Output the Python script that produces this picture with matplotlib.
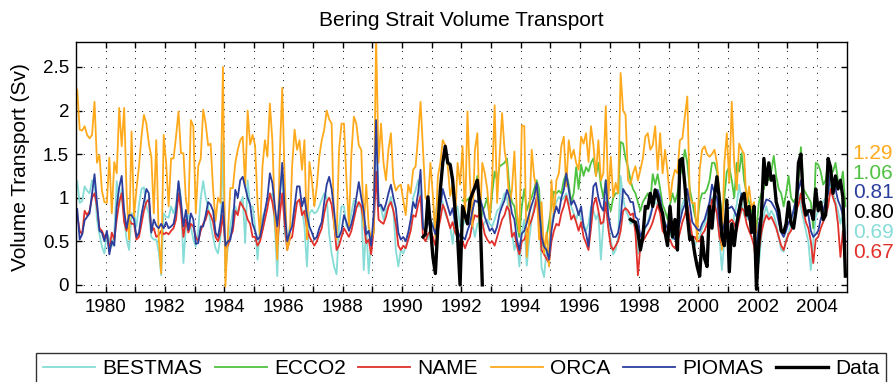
import numpy as np
import matplotlib
matplotlib.use("Agg")
import matplotlib.pyplot as plt
from matplotlib.ticker import FixedLocator, FuncFormatter

plt.rcParams['font.family'] = ['Liberation Sans', 'DejaVu Sans']

# monthly transports (Sv), one row per year
bestmas = [
    1.19, 0.94, 0.96, 1.13, 1.08, 1.05, 1.20, 1.17, 0.75, 0.58, 0.44, 0.36,  # 1979
    0.60, 0.52, 0.44, 0.58, 1.19, 0.90, 1.10, 0.75, 0.52, 0.40, 0.82, 0.82,  # 1980
    0.67, 0.92, 1.10, 1.12, 0.90, 0.82, 0.55, 0.52, 0.52, 0.38, 0.11, 0.82,  # 1981
    0.78, 0.77, 0.90, 0.82, 0.92, 1.17, 1.00, 0.25, 0.67, 0.82, 0.67, 0.52,  # 1982
    0.44, 0.63, 1.00, 1.19, 1.00, 0.90, 0.70, 0.55, 0.42, 0.36, 0.55, 1.62,  # 1983
    0.15, 0.44, 0.67, 0.85, 0.90, 0.82, 0.94, 1.01, 0.48, 1.20, 0.90, 0.90,  # 1984
    0.67, 0.29, 0.67, 0.78, 0.85, 0.94, 1.00, 1.05, 0.67, 0.10, 1.09, 1.28,  # 1985
    0.60, 0.44, 0.67, 0.67, 0.90, 0.94, 0.97, 0.86, 0.67, 0.21, 0.82, 0.86,  # 1986
    0.82, 0.84, 0.90, 0.98, 1.05, 1.01, 0.58, 0.36, 0.21, 0.12, 0.67, 0.90,  # 1987
    0.90, 0.67, 0.67, 0.82, 0.97, 0.95, 0.90, 0.90, 0.17, 0.67, 0.13, 0.52,  # 1988
    0.59, 1.89, 0.97, 0.88, 0.75, 0.86, 0.90, 1.01, 0.85, 0.40, 0.21, 0.40,  # 1989
    0.36, 0.44, 0.52, 0.67, 1.00, 1.09, 1.20, 1.00, 0.67, 0.59, 0.52, 0.67,  # 1990
    0.67, 0.82, 0.97, 1.01, 0.94, 0.82, 0.75, 0.67, 0.47, 0.82, 0.90, 0.67,  # 1991
    0.67, 0.75, 0.72, 0.70, 0.70, 0.55, 0.70, 0.72, 0.65, 0.72, 0.75, 0.70,  # 1992
    0.67, 0.75, 0.85, 0.88, 0.95, 1.05, 1.00, 0.78, 0.60, 0.40, 0.52, 0.21,  # 1993
    0.60, 0.75, 0.22, 0.52, 0.75, 0.90, 1.00, 0.85, 0.20, 0.09, 0.40, 0.50,  # 1994
    0.70, 0.85, 0.95, 1.01, 0.97, 1.00, 1.05, 0.95, 0.90, 0.82, 0.75, 0.85,  # 1995
    0.75, 0.70, 0.62, 0.70, 0.90, 0.85, 0.75, 0.82, 0.29, 0.70, 1.00, 0.67,  # 1996
    0.52, 0.35, 0.40, 0.55, 1.25, 1.00, 0.85, 0.80, 0.70, 0.72, 0.65, 0.36,  # 1997
    0.40, 0.52, 0.65, 0.72, 0.82, 0.90, 0.95, 0.92, 0.85, 0.78, 0.72, 0.65,  # 1998
    0.60, 0.52, 0.60, 0.70, 0.82, 0.92, 1.00, 0.90, 0.70, 0.55, 0.45, 0.52,  # 1999
    0.55, 0.65, 0.70, 0.80, 0.90, 1.00, 0.95, 0.82, 0.55, 0.17, 0.50, 0.80,  # 2000
    0.40, 0.55, 0.80, 0.92, 1.15, 0.95, 0.80, 0.75, 0.88, 0.80, 0.55, 0.30,  # 2001
    0.25, 0.55, 0.80, 0.90, 0.78, 0.85, 0.80, 0.70, 0.55, 0.40, 0.38, 0.52,  # 2002
    0.60, 0.70, 0.85, 0.98, 1.05, 0.90, 0.75, 0.62, 0.50, 0.17, 0.50, 0.78,  # 2003
    0.85, 0.92, 0.95, 1.00, 1.05, 1.15, 1.05, 0.95, 0.85, 0.70, 0.85, 0.60,  # 2004
]

ecco2 = [
    0.97, 0.95, 0.98, 1.00, 1.05, 1.10, 1.25, 0.60, 0.85, 0.90, 1.00, 0.75,  # 1992
    1.05, 1.30, 1.20, 1.36, 1.38, 1.40, 1.45, 1.10, 0.95, 0.90, 0.70, 0.55,  # 1993
    0.90, 1.10, 0.85, 0.95, 1.00, 1.10, 1.20, 1.10, 0.55, 0.40, 0.55, 0.72,  # 1994
    0.90, 1.07, 1.05, 1.08, 1.05, 1.20, 1.28, 1.15, 0.95, 1.05, 1.35, 1.10,  # 1995
    1.38, 1.25, 1.35, 1.30, 1.40, 1.45, 1.25, 1.40, 1.15, 1.00, 1.20, 0.95,  # 1996
    0.85, 1.00, 1.05, 1.05, 1.64, 1.62, 1.45, 1.35, 1.20, 1.10, 1.05, 0.95,  # 1997
    0.85, 0.95, 1.00, 1.05, 0.95, 1.27, 1.15, 1.27, 1.10, 0.92, 0.85, 0.75,  # 1998
    0.92, 1.05, 0.95, 1.05, 1.25, 1.35, 1.55, 1.40, 1.10, 0.95, 0.80, 0.70,  # 1999
    0.95, 1.05, 1.05, 1.10, 1.20, 1.40, 1.40, 1.30, 1.05, 0.80, 1.00, 1.30,  # 2000
    1.35, 1.20, 1.00, 1.40, 1.30, 1.51, 1.20, 1.05, 0.95, 0.85, 0.80, 0.65,  # 2001
    0.95, 1.05, 1.10, 1.30, 1.20, 1.30, 1.48, 1.25, 1.10, 1.05, 0.90, 1.05,  # 2002
    1.25, 1.00, 0.95, 1.00, 1.20, 1.58, 1.10, 1.05, 1.00, 0.95, 0.65, 1.40,  # 2003
    1.38, 1.30, 1.15, 1.20, 1.40, 1.30, 1.30, 1.40, 1.20, 1.15, 1.30, 0.90,  # 2004
]

name = [
    0.80, 0.62, 0.58, 0.85, 0.80, 0.85, 1.00, 1.05, 0.90, 0.65, 0.62, 0.55,  # 1979
    0.58, 0.40, 0.60, 0.52, 0.75, 0.95, 1.05, 0.72, 0.62, 0.75, 0.70, 0.70,  # 1980
    0.52, 0.55, 0.70, 0.85, 0.95, 0.98, 0.62, 0.65, 0.55, 0.57, 0.62, 0.58,  # 1981
    0.60, 0.58, 0.62, 0.65, 0.75, 1.05, 0.85, 0.55, 0.75, 0.60, 0.70, 0.67,  # 1982
    0.55, 0.50, 0.62, 0.70, 0.75, 0.85, 0.80, 0.72, 0.55, 0.50, 0.60, 0.80,  # 1983
    0.42, 0.45, 0.55, 0.62, 0.85, 0.80, 0.95, 0.90, 0.85, 0.75, 0.70, 0.55,  # 1984
    0.55, 0.45, 0.50, 0.62, 0.75, 0.88, 1.05, 0.95, 0.78, 0.45, 0.80, 1.05,  # 1985
    0.70, 0.40, 0.52, 0.55, 0.75, 0.95, 0.98, 0.80, 0.85, 0.65, 0.55, 0.50,  # 1986
    0.45, 0.50, 0.58, 0.65, 0.82, 0.95, 1.00, 0.92, 0.70, 0.40, 0.45, 0.55,  # 1987
    0.65, 0.60, 0.55, 0.62, 0.75, 0.88, 0.95, 0.90, 0.72, 0.48, 0.52, 0.35,  # 1988
    0.62, 1.30, 0.75, 0.72, 0.70, 0.78, 0.90, 0.95, 0.85, 0.70, 0.45, 0.40,  # 1989
    0.45, 0.42, 0.52, 0.62, 0.80, 0.78, 0.92, 1.02, 0.55, 0.50, 0.58, 0.62,  # 1990
    0.55, 0.45, 0.62, 0.75, 0.92, 0.85, 0.75, 0.65, 0.72, 0.60, 0.55, 0.45,  # 1991
    0.50, 0.42, 0.50, 0.55, 0.70, 0.80, 0.78, 0.82, 0.72, 0.58, 0.52, 0.48,  # 1992
    0.50, 0.45, 0.55, 0.65, 0.75, 0.80, 0.90, 0.85, 0.55, 0.60, 0.45, 0.35,  # 1993
    0.50, 0.52, 0.60, 0.68, 0.75, 0.85, 1.00, 0.75, 0.40, 0.35, 0.30, 0.25,  # 1994
    0.50, 0.62, 0.70, 0.68, 0.82, 0.90, 1.02, 0.90, 0.75, 0.80, 0.72, 0.62,  # 1995
    0.72, 0.55, 0.48, 0.40, 0.65, 0.92, 1.00, 0.85, 0.70, 0.72, 0.95, 0.65,  # 1996
    0.45, 0.40, 0.45, 0.50, 0.62, 0.85, 0.88, 0.85, 0.80, 0.82, 0.60, 0.11,  # 1997
    0.45, 0.50, 0.55, 0.60, 0.65, 0.72, 0.82, 0.92, 0.82, 0.62, 0.58, 0.50,  # 1998
    0.52, 0.45, 0.42, 0.50, 0.60, 0.72, 0.80, 0.92, 0.75, 0.55, 0.55, 0.50,  # 1999
    0.50, 0.58, 0.62, 0.70, 0.80, 0.98, 0.92, 0.82, 0.55, 0.45, 0.55, 0.75,  # 2000
    0.72, 0.75, 0.70, 0.62, 0.75, 0.88, 0.85, 0.70, 0.62, 0.55, 0.45, 0.20,  # 2001
    0.40, 0.60, 0.72, 0.80, 0.75, 0.78, 0.72, 0.65, 0.55, 0.45, 0.40, 0.50,  # 2002
    0.58, 0.62, 0.72, 0.85, 0.92, 1.05, 0.85, 0.72, 0.65, 0.50, 0.25, 0.52,  # 2003
    0.55, 0.65, 0.72, 0.80, 0.90, 1.10, 1.00, 0.92, 0.70, 0.32, 0.62, 0.45,  # 2004
]

orca = [
    2.24, 1.78, 1.77, 1.82, 1.72, 1.68, 1.72, 2.10, 1.40, 1.49, 1.08, 0.95,  # 1979
    0.94, 1.46, 0.82, 1.41, 1.28, 2.03, 1.59, 2.03, 1.05, 0.52, 1.76, 0.78,  # 1980
    1.10, 1.36, 1.70, 1.95, 1.85, 1.62, 1.47, 0.82, 1.66, 0.54, 0.13, 1.72,  # 1981
    1.40, 0.90, 1.45, 1.45, 1.70, 1.99, 1.51, 1.51, 0.97, 0.82, 1.89, 1.82,  # 1982
    0.82, 1.36, 1.45, 2.01, 1.85, 1.60, 1.62, 1.10, 0.73, 1.00, 0.94, 2.50,  # 1983
    -0.02, 0.59, 1.11, 1.11, 1.40, 1.55, 1.66, 1.70, 1.13, 2.00, 1.61, 1.72,  # 1984
    1.60, 0.94, 0.55, 1.36, 1.66, 1.47, 2.08, 1.66, 0.80, 0.29, 1.47, 2.26,  # 1985
    1.22, 0.40, 0.52, 1.36, 1.78, 1.55, 1.66, 1.32, 1.66, 0.52, 1.41, 1.20,  # 1986
    0.90, 1.13, 1.47, 1.66, 1.78, 2.00, 1.90, 1.85, 0.67, 0.52, 1.55, 1.85,  # 1987
    1.85, 1.20, 0.67, 1.50, 1.93, 1.85, 1.60, 1.55, 0.67, 1.15, 0.67, 0.52,  # 1988
    0.60, 2.85, 1.40, 1.85, 1.40, 1.20, 1.55, 1.74, 1.20, 1.08, 1.13, 1.15,  # 1989
    0.97, 0.80, 1.15, 1.05, 1.32, 1.36, 1.70, 2.10, 1.55, 1.00, 0.95, 1.40,  # 1990
    1.02, 0.55, 1.24, 1.40, 1.66, 1.60, 1.36, 1.02, 1.15, 0.75, 1.40, 1.15,  # 1991
    1.59, 0.75, 1.99, 1.20, 0.67, 1.55, 1.74, 0.67, 1.40, 1.28, 1.10, 0.75,  # 1992
    1.20, 2.06, 0.94, 1.47, 1.97, 1.55, 1.36, 0.90, 1.09, 1.53, 0.82, 0.60,  # 1993
    1.83, 1.82, 0.32, 0.75, 1.55, 1.24, 1.10, 0.52, 0.95, 0.36, 0.60, 0.21,  # 1994
    1.20, 0.78, 1.20, 1.28, 1.59, 1.70, 1.13, 1.66, 1.45, 1.55, 1.40, 1.32,  # 1995
    1.70, 1.62, 1.74, 1.41, 1.82, 1.60, 1.25, 1.66, 1.20, 1.28, 2.05, 0.97,  # 1996
    1.47, 1.01, 1.17, 1.05, 2.43, 2.00, 1.95, 1.20, 1.15, 1.28, 1.36, 1.20,  # 1997
    1.32, 1.45, 1.70, 1.74, 1.55, 1.60, 1.82, 1.32, 1.74, 1.28, 1.55, 1.30,  # 1998
    0.97, 1.20, 1.32, 1.28, 1.66, 1.68, 1.93, 2.16, 1.00, 0.94, 0.94, 0.50,  # 1999
    1.32, 1.55, 1.59, 1.50, 1.47, 1.50, 1.55, 1.40, 1.05, 0.40, 1.40, 1.74,  # 2000
    1.17, 2.10, 1.40, 1.09, 1.62, 1.55, 1.50, 0.90, 1.13, 0.88, 0.95, 0.60,  # 2001
]

piomas = [
    0.87, 0.52, 0.58, 0.74, 0.78, 0.82, 1.05, 1.27, 0.95, 0.62, 0.60, 0.50,  # 1979
    0.62, 0.35, 0.50, 0.45, 0.90, 1.12, 1.25, 0.85, 0.65, 0.80, 0.80, 0.75,  # 1980
    0.55, 0.60, 0.80, 0.95, 1.10, 1.05, 0.60, 0.75, 0.68, 0.65, 0.70, 0.65,  # 1981
    0.72, 0.65, 0.67, 0.70, 0.85, 1.19, 0.95, 0.67, 0.86, 0.63, 0.82, 0.75,  # 1982
    0.47, 0.48, 0.67, 0.67, 0.80, 0.95, 0.92, 0.85, 0.60, 0.55, 0.72, 0.95,  # 1983
    0.45, 0.50, 0.52, 0.70, 1.09, 1.00, 1.20, 1.24, 1.12, 1.00, 0.92, 0.70,  # 1984
    0.62, 0.52, 0.55, 0.70, 0.85, 1.00, 1.28, 1.17, 0.90, 0.67, 1.00, 1.40,  # 1985
    0.85, 0.50, 0.60, 0.67, 0.90, 1.13, 1.13, 0.90, 1.00, 0.80, 0.67, 0.60,  # 1986
    0.52, 0.55, 0.65, 0.72, 0.95, 1.15, 1.24, 1.10, 0.85, 0.55, 0.55, 0.62,  # 1987
    0.80, 0.72, 0.62, 0.70, 0.82, 1.00, 1.18, 1.00, 0.85, 0.58, 0.62, 0.45,  # 1988
    0.80, 1.89, 0.90, 0.92, 0.85, 0.93, 1.05, 1.15, 1.00, 0.88, 0.60, 0.52,  # 1989
    0.55, 0.50, 0.60, 0.75, 0.95, 0.88, 1.05, 1.32, 0.65, 0.62, 0.70, 0.75,  # 1990
    0.67, 0.58, 0.75, 0.90, 1.10, 1.00, 0.90, 0.80, 0.88, 0.70, 0.62, 0.55,  # 1991
    0.55, 0.52, 0.62, 0.70, 0.85, 0.97, 0.95, 1.00, 0.90, 0.78, 0.70, 0.62,  # 1992
    0.65, 0.59, 0.67, 0.82, 0.90, 0.97, 1.09, 1.00, 0.82, 0.75, 0.52, 0.40,  # 1993
    0.59, 0.62, 0.71, 0.82, 0.92, 1.00, 1.17, 0.90, 0.55, 0.44, 0.40, 0.29,  # 1994
    0.62, 0.80, 0.90, 0.82, 1.00, 1.09, 1.28, 1.09, 0.92, 0.97, 0.90, 0.80,  # 1995
    0.90, 0.67, 0.59, 0.44, 0.82, 1.13, 1.17, 1.00, 0.90, 0.85, 1.20, 0.80,  # 1996
    0.65, 0.55, 0.55, 0.60, 0.75, 1.10, 1.05, 1.02, 0.95, 0.95, 0.78, 0.75,  # 1997
    0.55, 0.62, 0.66, 0.70, 0.78, 0.90, 1.00, 1.09, 1.00, 0.80, 0.70, 0.65,  # 1998
    0.66, 0.55, 0.52, 0.62, 0.72, 0.85, 0.92, 1.10, 0.92, 0.72, 0.68, 0.64,  # 1999
    0.62, 0.70, 0.75, 0.85, 0.95, 1.15, 1.05, 1.00, 0.70, 0.60, 0.70, 0.88,  # 2000
    0.88, 0.90, 0.85, 0.78, 0.90, 1.05, 1.00, 0.85, 0.75, 0.70, 0.60, 0.42,  # 2001
    0.70, 0.82, 0.90, 0.98, 0.97, 0.95, 0.90, 0.85, 0.72, 0.60, 0.55, 0.62,  # 2002
    0.72, 0.75, 0.85, 0.98, 1.09, 1.20, 0.97, 0.85, 0.80, 0.62, 0.55, 0.58,  # 2003
    0.62, 0.75, 0.85, 0.95, 1.05, 1.30, 1.20, 1.10, 0.97, 0.90, 0.80, 0.50,  # 2004
]

# mooring observations, Sep 1990 - Sep 1992 and Sep 1997 - Dec 2004
data_early = [
    0.55, 0.58, 1.01, 0.67,  # 1990
    0.32, 0.13, 0.67, 1.09, 1.40, 1.59, 1.40, 1.38, 1.20, 0.85, 0.55, 0.00,  # 1991
    0.90, 0.80, 0.70, 0.97, 1.05, 1.12, 1.20, 0.90, 0.00,  # 1992
]
data_late = [
    0.75, 0.73, 0.72, 0.60,  # 1997
    0.40, 0.55, 0.90, 0.88, 1.05, 0.90, 1.09, 1.01, 0.90, 0.82, 0.60, 0.45,  # 1998
    0.90, 0.55, 0.75, 0.40, 1.43, 1.45, 1.15, 0.80, 0.52, 0.55, 0.36, 0.21,  # 1999
    0.10, 0.55, 0.30, 0.21, 0.90, 0.65, 1.01, 1.24, 0.97, 0.55, 0.45, 0.97,  # 2000
    0.15, 0.70, 0.45, 0.70, 0.85, 1.00, 1.05, 0.80, 0.90, 0.60, 0.90, -0.05,  # 2001
    0.50, 0.80, 1.45, 1.15, 1.40, 1.20, 1.25, 0.95, 0.85, 0.62, 0.60, 0.70,  # 2002
    0.95, 0.70, 0.65, 0.85, 1.40, 1.50, 0.95, 0.80, 0.85, 0.85, 0.75, 1.10,  # 2003
    0.85, 0.95, 0.75, 0.80, 1.45, 1.35, 1.05, 1.25, 1.10, 1.20, 1.00, 0.10,  # 2004
]

# mean transports printed on the right
mean_labels = ['1.29', '1.06', '0.81', '0.80', '0.69', '0.67']
mean_colors = ['#FFAA1C', '#4FC241', '#2B3E9E', 'black', '#86DCD6', '#E2302A']


def months(start, values):
    # mid-month positions in decimal years
    return start + (np.arange(len(values)) + 0.5) / 12.0


fig = plt.figure(figsize=(8.94, 3.82), dpi=100)
ax = fig.add_axes([0.085, 0.236, 0.862, 0.655])

ax.plot(months(1979, bestmas), bestmas, color='#86DCD6', lw=1.3, label='BESTMAS')
ax.plot(months(1992, ecco2), ecco2, color='#4FC241', lw=1.3, label='ECCO2')
ax.plot(months(1979, name), name, color='#E2302A', lw=1.3, label='NAME')
ax.plot(months(1979, orca), orca, color='#FFAA1C', lw=1.3, label='ORCA')
ax.plot(months(1979, piomas), piomas, color='#2B3E9E', lw=1.3, label='PIOMAS')
ax.plot(months(1990 + 8 / 12, data_early), data_early, color='black', lw=2.4, label='Data')
ax.plot(months(1997 + 8 / 12, data_late), data_late, color='black', lw=2.4)

ax.set_xlim(1979, 2005)
ax.set_ylim(-0.08, 2.79)

years = np.arange(1980, 2005)
ax.xaxis.set_major_locator(FixedLocator(years))
ax.xaxis.set_major_formatter(FuncFormatter(lambda v, p: f'{int(round(v))}' if int(round(v)) % 2 == 0 else ''))
ax.set_yticks([0, 0.5, 1, 1.5, 2, 2.5])
ax.set_yticklabels(['0', '0.5', '1', '1.5', '2', '2.5'])
ax.tick_params(direction='in', top=True, right=True, length=4, width=1, labelsize=13.5, pad=5)
ax.grid(True, color='black', linestyle=(0, (1, 6.5)), linewidth=0.7)
for s in ax.spines.values():
    s.set_linewidth(1.0)

ax.set_title('Bering Strait Volume Transport', fontsize=15, pad=11)
ax.set_ylabel('Volume Transport (Sv)', fontsize=15)
ax.yaxis.set_label_coords(-0.06, 0.5)

label_y = [1.51, 1.28, 1.055, 0.83, 0.60, 0.37]
for txt, col, yy in zip(mean_labels, mean_colors, label_y):
    ax.text(1.008, yy, txt, color=col, fontsize=15, va='center', ha='left',
            transform=ax.get_yaxis_transform())

leg = ax.legend(loc='upper center', bbox_to_anchor=(0.5, -0.244), ncol=6, fontsize=15,
                frameon=True, fancybox=False, edgecolor='black', handlelength=2.5,
                handletextpad=0.35, columnspacing=0.6, borderaxespad=0, borderpad=0.3)
leg.get_frame().set_linewidth(1.0)

fig.savefig('out.png', dpi=100)
